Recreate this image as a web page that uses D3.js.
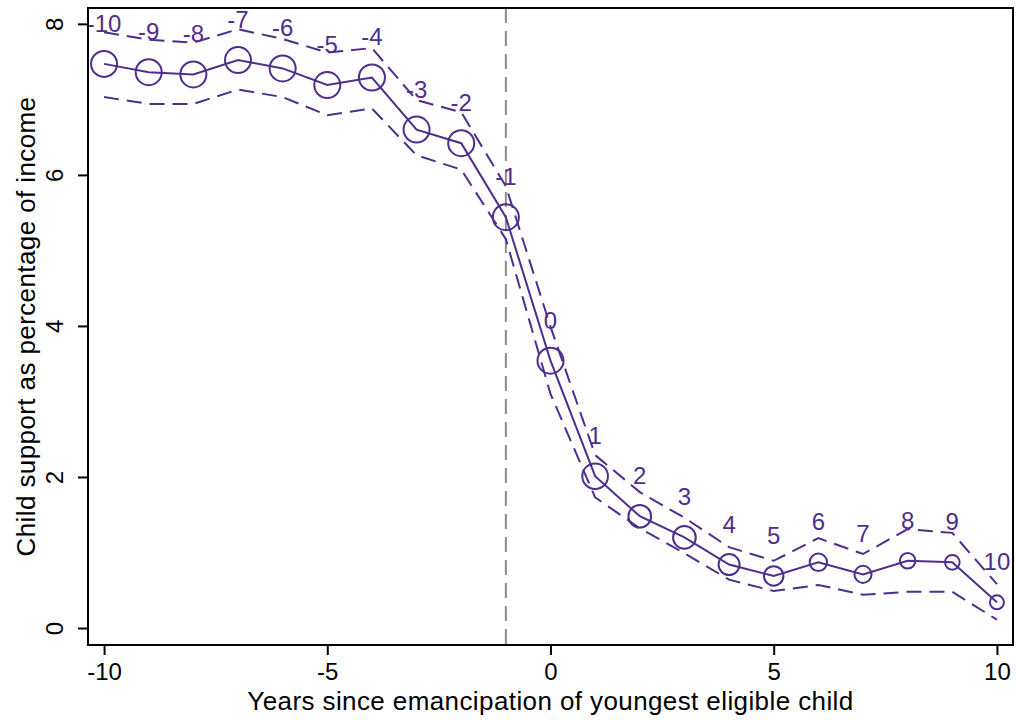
<!DOCTYPE html>
<html>
<head>
<meta charset="utf-8">
<script src="https://cdn.jsdelivr.net/npm/d3@7"></script>
<style>
  html, body { margin: 0; padding: 0; background: #fff; }
  svg { display: block; font-family: "Liberation Sans", Arial, sans-serif; }
</style>
</head>
<body>
<svg id="chart" width="1016" height="720"></svg>
<script>
// Years relative to emancipation of the youngest eligible child
const years = [-10, -9, -8, -7, -6, -5, -4, -3, -2, -1, 0, 1, 2, 3, 4, 5, 6, 7, 8, 9, 10];
// Child support as a percentage of income: point estimate and 95% CI
const estimate = [7.47, 7.36, 7.33, 7.52, 7.41, 7.19, 7.29, 6.60, 6.42, 5.44, 3.54, 2.01, 1.48, 1.20, 0.84, 0.69, 0.87, 0.71, 0.89, 0.87, 0.34];
const ciUpper  = [7.89, 7.79, 7.75, 7.93, 7.80, 7.62, 7.68, 6.99, 6.83, 5.85, 3.99, 2.29, 1.80, 1.46, 1.07, 0.89, 1.19, 0.98, 1.31, 1.26, 0.58];
const ciLower  = [7.03, 6.94, 6.94, 7.13, 7.03, 6.79, 6.88, 6.26, 6.07, 5.15, 3.10, 1.73, 1.32, 0.99, 0.64, 0.49, 0.57, 0.44, 0.48, 0.48, 0.11];
// Relative number of observations behind each estimate (marker weight)
const obsWeight = [1.00, 1.00, 1.00, 1.00, 1.00, 1.00, 1.00, 1.00, 1.00, 1.00, 1.00, 0.97, 0.76, 0.76, 0.65, 0.56, 0.45, 0.43, 0.36, 0.32, 0.29];
const xTicks = [-10, -5, 0, 5, 10];
const yTicks = [0, 2, 4, 6, 8];
const eventYear = -1;

const purple = "#4f2d8c";
const svg = d3.select("#chart");
const margin = { left: 88, right: 3, top: 8, bottom: 75 };
const W = 1016, H = 720;

const x = d3.scaleLinear().domain([-10.36, 10.36]).range([margin.left, W - margin.right]);
const y = d3.scaleLinear().domain([-0.225, 8.21]).range([H - margin.bottom, margin.top]);
const r = d3.scaleSqrt().domain([0, 1]).range([0, 13]);
const num = d => String(d); // plain hyphen for negatives

const rows = years.map((t, i) => ({ t, est: estimate[i], hi: ciUpper[i], lo: ciLower[i], w: obsWeight[i] }));

svg.append("defs").append("clipPath").attr("id", "plot-clip")
  .append("rect")
  .attr("x", margin.left).attr("y", margin.top)
  .attr("width", W - margin.right - margin.left)
  .attr("height", H - margin.bottom - margin.top);

const plot = svg.append("g").attr("clip-path", "url(#plot-clip)");

// Vertical reference line
plot.append("line")
  .attr("x1", x(eventYear)).attr("x2", x(eventYear))
  .attr("y1", y.range()[1]).attr("y2", y.range()[0])
  .attr("stroke", "#8c8c8c").attr("stroke-width", 2)
  .attr("stroke-dasharray", "15,8");

// Confidence bounds
const lineOf = key => d3.line().x(d => x(d.t)).y(d => y(d[key]));
["hi", "lo"].forEach(k => {
  plot.append("path").datum(rows)
    .attr("d", lineOf(k))
    .attr("fill", "none").attr("stroke", purple)
    .attr("stroke-width", 2).attr("stroke-dasharray", "15,8");
});

// Estimates
plot.append("path").datum(rows)
  .attr("d", lineOf("est"))
  .attr("fill", "none").attr("stroke", purple).attr("stroke-width", 2);

plot.append("g").selectAll("circle").data(rows).join("circle")
  .attr("cx", d => x(d.t)).attr("cy", d => y(d.est))
  .attr("r", d => r(d.w))
  .attr("fill", "none").attr("stroke", purple).attr("stroke-width", 2);

// Year labels above each marker
plot.append("g").selectAll("text").data(rows).join("text")
  .attr("x", d => x(d.t)).attr("y", d => y(d.est) - 32)
  .attr("text-anchor", "middle")
  .attr("font-size", 24).attr("fill", purple)
  .text(d => num(d.t));

// Plot frame
svg.append("rect")
  .attr("x", margin.left).attr("y", margin.top)
  .attr("width", W - margin.right - margin.left)
  .attr("height", H - margin.bottom - margin.top)
  .attr("fill", "none").attr("stroke", "#000").attr("stroke-width", 2);

// X axis
const xAxis = svg.append("g")
  .attr("transform", `translate(0,${H - margin.bottom})`)
  .call(d3.axisBottom(x).tickValues(xTicks).tickSize(10).tickPadding(8).tickFormat(num));
xAxis.select(".domain").remove();
xAxis.selectAll("line").attr("stroke", "#000").attr("stroke-width", 2);
xAxis.selectAll("text").attr("font-size", 24).attr("fill", "#000")
  .attr("font-family", "Liberation Sans, Arial, sans-serif");

// Y axis with rotated tick labels
const yAxis = svg.append("g")
  .attr("transform", `translate(${margin.left},0)`)
  .call(d3.axisLeft(y).tickValues(yTicks).tickSize(10).tickFormat(num));
yAxis.select(".domain").remove();
yAxis.selectAll("line").attr("stroke", "#000").attr("stroke-width", 2);
yAxis.selectAll("text")
  .attr("x", null).attr("dy", null)
  .attr("text-anchor", "middle")
  .attr("transform", "translate(-25,0) rotate(-90)")
  .attr("font-size", 24).attr("fill", "#000")
  .attr("font-family", "Liberation Sans, Arial, sans-serif");

// Axis titles
svg.append("text")
  .attr("x", (x.range()[0] + x.range()[1]) / 2).attr("y", 710)
  .attr("text-anchor", "middle").attr("font-size", 26).attr("letter-spacing", 0.4)
  .text("Years since emancipation of youngest eligible child");

svg.append("text")
  .attr("transform", `translate(35,${(y.range()[0] + y.range()[1]) / 2}) rotate(-90)`)
  .attr("text-anchor", "middle").attr("font-size", 26).attr("letter-spacing", 0.4)
  .text("Child support as percentage of income");
</script>
</body>
</html>
